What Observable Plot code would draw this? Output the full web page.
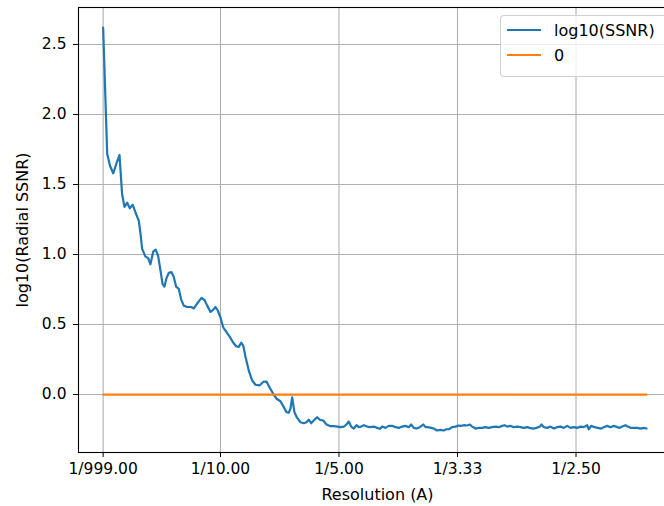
<!DOCTYPE html>
<html>
<head>
<meta charset="utf-8">
<script src="https://cdn.jsdelivr.net/npm/d3@7"></script>
<script src="https://cdn.jsdelivr.net/npm/@observablehq/plot@0.6"></script>
<style>
  html, body { margin: 0; padding: 0; background: #fff; overflow: hidden; }
  #wrap { position: relative; width: 664px; height: 506px; overflow: hidden; }
  #legend {
    position: absolute; left: 500px; top: 15px; width: 170px; height: 62px;
    background: rgba(255,255,255,0.8); border: 1px solid rgba(204,204,204,0.9);
    border-radius: 4px; box-sizing: border-box;
    font-family: "DejaVu Sans", sans-serif; font-size: 16px; color: #000;
  }
  .entry { position: absolute; left: 6px; height: 20px; display: flex; align-items: center; }
  .swatch { width: 34px; height: 2.2px; margin-right: 13px; }
</style>
</head>
<body>
<div id="wrap"><div id="legend"></div></div>
<script>
// Spatial frequency (1/A)
const freq = [
  0.001, 0.0044, 0.0069, 0.0095, 0.0122, 0.0148, 0.0170, 0.0190, 0.0213, 0.0235,
  0.0260, 0.0283, 0.0311, 0.0325, 0.0339, 0.0367, 0.0390, 0.0409, 0.0432, 0.0454,
  0.0474, 0.0494, 0.0511, 0.0527, 0.0544, 0.0564, 0.0586, 0.0606, 0.0626, 0.0648,
  0.0668, 0.0690, 0.0719, 0.0753, 0.0775, 0.0803, 0.0840, 0.0865, 0.0888, 0.0916,
  0.0938, 0.0958, 0.0977, 0.1000, 0.1023, 0.1051, 0.1076, 0.1104, 0.1132, 0.1154,
  0.1175, 0.1192, 0.1211, 0.1239, 0.1268, 0.1295, 0.1329, 0.1360, 0.1388, 0.1416,
  0.1445, 0.1473, 0.1506, 0.1534, 0.1557, 0.1576, 0.1591, 0.1605, 0.1624, 0.1647,
  0.1675, 0.1703, 0.1726, 0.1745, 0.1765, 0.1787, 0.1816, 0.1838, 0.1867, 0.1895,
  0.1928, 0.1956, 0.1985, 0.2013, 0.2041, 0.2063, 0.2083, 0.2103, 0.2125, 0.2148,
  0.2167, 0.2187, 0.2209, 0.2238, 0.2266, 0.2294, 0.2322, 0.2344, 0.2365, 0.2392,
  0.2420, 0.2449, 0.2477, 0.2505, 0.2533, 0.2561, 0.2589, 0.2609, 0.2631, 0.2654,
  0.2682, 0.2711, 0.2730, 0.2749, 0.2778, 0.2800, 0.2827, 0.2857, 0.2884, 0.2907,
  0.2927, 0.2955, 0.2983, 0.3011, 0.3031, 0.3053, 0.3082, 0.3104, 0.3124, 0.3152,
  0.3180, 0.3208, 0.3236, 0.3264, 0.3293, 0.3321, 0.3349, 0.3377, 0.3397, 0.3419,
  0.3447, 0.3475, 0.3504, 0.3532, 0.3559, 0.3588, 0.3610, 0.3638, 0.3667, 0.3695,
  0.3709, 0.3728, 0.3757, 0.3785, 0.3813, 0.3841, 0.3869, 0.3897, 0.3926, 0.3954,
  0.3981, 0.4010, 0.4038, 0.4066, 0.4094, 0.4108, 0.4128, 0.4156, 0.4184, 0.4213,
  0.4235, 0.4263, 0.4291, 0.4319, 0.4348, 0.4370, 0.4390, 0.4418, 0.4437, 0.4460,
  0.4488, 0.4517, 0.4544, 0.4572, 0.4595
];
// log10(SSNR)
const logSSNR = [
  2.62, 1.72, 1.63, 1.58, 1.65, 1.71, 1.43, 1.34, 1.37, 1.33,
  1.355, 1.30, 1.24, 1.15, 1.04, 0.985, 0.975, 0.93, 1.02, 1.035,
  0.99, 0.885, 0.79, 0.77, 0.83, 0.87, 0.875, 0.84, 0.77, 0.755,
  0.68, 0.635, 0.625, 0.625, 0.615, 0.65, 0.69, 0.675, 0.635, 0.59,
  0.605, 0.625, 0.60, 0.55, 0.48, 0.445, 0.415, 0.375, 0.345, 0.34,
  0.37, 0.35, 0.27, 0.17, 0.10, 0.07, 0.065, 0.09, 0.093, 0.048,
  0.005, -0.03, -0.048, -0.09, -0.126, -0.13, -0.10, -0.02, -0.126, -0.167,
  -0.198, -0.205, -0.198, -0.18, -0.205, -0.186, -0.162, -0.18, -0.186, -0.214,
  -0.226, -0.226, -0.229, -0.233, -0.229, -0.214, -0.193, -0.229, -0.243, -0.219,
  -0.233, -0.229, -0.219, -0.229, -0.233, -0.229, -0.238, -0.245, -0.229, -0.238,
  -0.224, -0.224, -0.233, -0.238, -0.229, -0.224, -0.233, -0.214, -0.238, -0.243,
  -0.233, -0.214, -0.233, -0.233, -0.238, -0.243, -0.257, -0.252, -0.257, -0.248,
  -0.248, -0.233, -0.229, -0.221, -0.224, -0.219, -0.221, -0.214, -0.229, -0.243,
  -0.238, -0.238, -0.233, -0.238, -0.233, -0.229, -0.233, -0.224, -0.219, -0.229,
  -0.224, -0.233, -0.229, -0.233, -0.238, -0.233, -0.238, -0.243, -0.238, -0.229,
  -0.214, -0.233, -0.238, -0.229, -0.243, -0.233, -0.229, -0.238, -0.224, -0.238,
  -0.233, -0.238, -0.229, -0.233, -0.219, -0.248, -0.224, -0.233, -0.238, -0.243,
  -0.233, -0.224, -0.233, -0.224, -0.233, -0.238, -0.229, -0.219, -0.229, -0.238,
  -0.238, -0.238, -0.243, -0.238, -0.243
];
const xTicks = [0.001, 0.1, 0.2, 0.3, 0.4];
const xTickLabels = ["1/999.00", "1/10.00", "1/5.00", "1/3.33", "1/2.50"];
const yTicks = [0, 0.5, 1, 1.5, 2, 2.5];
const seriesNames = ["log10(SSNR)", "0"];
const seriesColors = ["#1f77b4", "#ff7f0e"];
const xLabel = "Resolution (A)";
const yLabel = "log10(Radial SSNR)";

const ssnrData = freq.map((f, i) => ({f, v: logSSNR[i]}));
const tickLabelOf = new Map(xTicks.map((t, i) => [t, xTickLabels[i]]));

const chart = Plot.plot({
  width: 664,
  height: 506,
  marginLeft: 78,
  marginRight: -12,
  marginTop: 7,
  marginBottom: 54,
  style: {fontFamily: "DejaVu Sans, sans-serif", fontSize: "16px", color: "#000", background: "transparent"},
  x: {domain: [-0.0198, 0.4848]},
  y: {domain: [-0.414, 2.764]},
  marks: [
    Plot.gridX(xTicks, {stroke: "#b0b0b0", strokeOpacity: 1, strokeWidth: 1.1}),
    Plot.gridY(yTicks, {stroke: "#b0b0b0", strokeOpacity: 1, strokeWidth: 1.1}),
    Plot.line(ssnrData, {x: "f", y: "v", stroke: seriesColors[0], strokeWidth: 2.2}),
    Plot.line(freq, {x: d => d, y: () => 0, stroke: seriesColors[1], strokeWidth: 2.2}),
    Plot.frame({stroke: "#000", strokeWidth: 1.1}),
    Plot.axisX(xTicks, {tickFormat: d => tickLabelOf.get(d), tickSize: 5, tickPadding: 5, label: null, stroke: "#000", fontSize: 15.5}),
    Plot.axisY(yTicks, {tickFormat: d3.format(".1f"), tickSize: 5, tickPadding: 7, label: null, stroke: "#000", fontSize: 15.5}),
    Plot.text([xLabel], {frameAnchor: "bottom", dy: 42, textAnchor: "middle", lineAnchor: "middle", fill: "#000", fontSize: 16}),
    Plot.text([yLabel], {frameAnchor: "left", dx: -56, rotate: -90, textAnchor: "middle", lineAnchor: "middle", fill: "#000", fontSize: 16})
  ]
});

const wrap = document.getElementById("wrap");
wrap.insertBefore(chart, wrap.firstChild);
chart.style.position = "absolute";
chart.style.left = "0px";
chart.style.top = "0px";

const legend = document.getElementById("legend");
seriesNames.forEach((name, i) => {
  const e = document.createElement("div");
  e.className = "entry";
  e.style.top = (4 + i * 25) + "px";
  const s = document.createElement("div");
  s.className = "swatch";
  s.style.background = seriesColors[i];
  const t = document.createElement("span");
  t.textContent = name;
  e.appendChild(s); e.appendChild(t);
  legend.appendChild(e);
});
</script>
</body>
</html>
